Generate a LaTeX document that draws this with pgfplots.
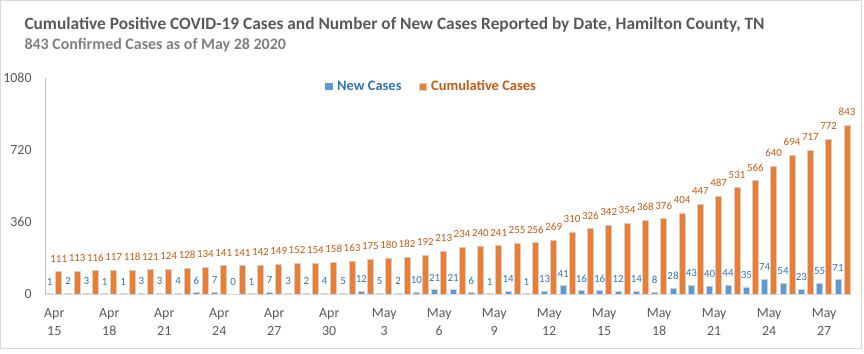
\documentclass[border=0pt]{standalone}
\usepackage{fontspec}
\setmainfont{Carlito}
\usepackage{pgfplots}
\pgfplotsset{compat=1.18}
\usepackage{pgfplotstable}
\definecolor{newc}{HTML}{5B9BD5}
\definecolor{cumc}{HTML}{ED7D31}
\definecolor{newt}{HTML}{2E75B6}
\definecolor{cumt}{HTML}{C55A11}
\definecolor{titlec}{HTML}{595959}
\definecolor{subc}{HTML}{7F7F7F}
\definecolor{framec}{HTML}{D9D9D9}
\definecolor{axc}{HTML}{BFBFBF}
\definecolor{edgec}{HTML}{D0D0D0}

\pgfplotstableread{
x new cum
0 1 111
1 2 113
2 3 116
3 1 117
4 1 118
5 3 121
6 3 124
7 4 128
8 6 134
9 7 141
10 0 141
11 1 142
12 7 149
13 3 152
14 2 154
15 4 158
16 5 163
17 12 175
18 5 180
19 2 182
20 10 192
21 21 213
22 21 234
23 6 240
24 1 241
25 14 255
26 1 256
27 13 269
28 41 310
29 16 326
30 16 342
31 12 354
32 14 368
33 8 376
34 28 404
35 43 447
36 40 487
37 44 531
38 35 566
39 74 640
40 54 694
41 23 717
42 55 772
43 71 843
}\data

\begin{document}
\begin{tikzpicture}
\useasboundingbox (0bp,0bp) rectangle (864bp,354bp);
\draw[framec, line width=1bp] (0.5bp,5bp) rectangle (861bp,353.5bp);
\node[anchor=base west, inner sep=0, font=\fontsize{17.4}{20}\selectfont\bfseries, text=titlec] at (24.3bp,324.5bp) {Cumulative Positive COVID-19 Cases and Number of New Cases Reported by Date, Hamilton County, TN};
\node[anchor=base west, inner sep=0, font=\fontsize{16}{18}\selectfont\bfseries, text=subc] at (24.3bp,304.5bp) {843 Confirmed Cases as of May 28 2020};
\begin{axis}[
  at={(45.1bp,60bp)}, anchor=south west,
  scale only axis, width=806.6bp, height=216bp,
  xmin=-0.5, xmax=43.5, ymin=0, ymax=1080,
  ybar=3bp, bar width=6bp,
  axis x line*=bottom, axis y line*=left,
  x axis line style={draw=framec, line width=1bp},
  y axis line style={draw=axc, line width=0.8bp},
  major tick length=0pt,
  xtick={0,3,...,42},
  xticklabels={{Apr\\15},{Apr\\18},{Apr\\21},{Apr\\24},{Apr\\27},{Apr\\30},{May\\3},{May\\6},{May\\9},{May\\12},{May\\15},{May\\18},{May\\21},{May\\24},{May\\27}},
  xticklabel style={align=center, font=\fontsize{14}{18}\selectfont, text=titlec, yshift=-11bp},
  ytick={0,360,720,1080},
  yticklabels={0,360,720,1080},
  yticklabel style={font=\fontsize{14}{16}\selectfont, text=titlec, xshift=-10bp},
  /pgf/number format/assume math mode=true,
]
\addplot[fill=newc, draw=edgec, line width=0.6bp,
  nodes near coords,
  every node near coord/.append style={font=\fontsize{11}{13}\selectfont, text=newt, yshift=5bp}]
  table[x=x, y=new] {\data};
\addplot[fill=cumc, draw=edgec, line width=0.6bp,
  nodes near coords,
  every node near coord/.append style={font=\fontsize{11}{13}\selectfont, text=cumt, yshift=6bp}]
  table[x=x, y=cum] {\data};
\end{axis}
\node[anchor=base west, inner sep=0, font=\fontsize{14.5}{17}\selectfont\bfseries] at (325bp,263.5bp) {%
\textcolor{newc}{\rule{7.5bp}{7.5bp}}\hspace{4.5bp}%
\textcolor{newt}{New Cases}\hspace{17bp}%
{\fboxsep=0pt\fboxrule=0.8bp\fcolorbox{edgec}{cumc}{\rule{0pt}{6.5bp}\hspace{6.5bp}}}\hspace{4.5bp}%
\textcolor{cumt}{Cumulative Cases}};
\end{tikzpicture}
\end{document}
